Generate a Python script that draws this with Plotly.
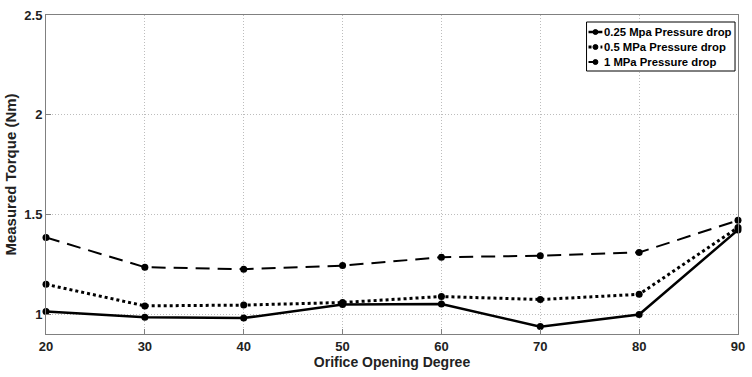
import plotly.graph_objects as go

opening = [20, 30, 40, 50, 60, 70, 80, 90]
torque_025 = [1.013, 0.984, 0.980, 1.048, 1.050, 0.937, 0.998, 1.422]
torque_05 = [1.149, 1.041, 1.045, 1.058, 1.088, 1.073, 1.099, 1.434]
torque_1 = [1.384, 1.235, 1.225, 1.243, 1.285, 1.293, 1.309, 1.470]
names = ["0.25 Mpa Pressure drop", "0.5 MPa Pressure drop", "1 MPa Pressure drop"]
x_ticks = [20, 30, 40, 50, 60, 70, 80, 90]
y_ticks = [1, 1.5, 2, 2.5]

W, H = 752, 377
ML, MR, MT, MB = 46, 7, 15, 43
PW, PH = W - ML - MR, H - MT - MB


def px(x):
    return (x - ML) / PW


def py(y):
    return (H - MB - y) / PH


line_dash = ["solid", "dot", "14px,8px"]
line_w = [2.5, 3, 2]

fig = go.Figure()
for ys, nm, dash, w in zip([torque_025, torque_05, torque_1], names, line_dash, line_w):
    fig.add_trace(go.Scatter(
        x=opening, y=ys, name=nm, mode="lines+markers",
        line=dict(color="black", width=w, dash=dash),
        marker=dict(color="black", size=7, symbol="circle"),
        cliponaxis=False, showlegend=False,
    ))

# custom compact legend (MATLAB style)
shapes = [dict(type="rect", xref="paper", yref="paper",
               x0=px(592), x1=px(742), y0=py(71), y1=py(22),
               line=dict(color="black", width=1), fillcolor="white", layer="above")]
annotations = []
row_y = [32, 47, 62]
leg_dash = ["solid", "dot", "dash"]
for i, nm in enumerate(names):
    yy = row_y[i]
    shapes.append(dict(type="line", xref="paper", yref="paper",
                       x0=px(594), x1=px(608), y0=py(yy), y1=py(yy),
                       line=dict(color="black", width=line_w[i], dash=leg_dash[i]), layer="above"))
    shapes.append(dict(type="circle", xref="paper", yref="paper",
                       x0=px(598.5), x1=px(603.5), y0=py(yy + 2.5), y1=py(yy - 2.5),
                       line=dict(color="black", width=1), fillcolor="black", layer="above"))
    annotations.append(dict(xref="paper", yref="paper", x=px(608), y=py(yy),
                            xanchor="left", yanchor="middle", showarrow=False,
                            text=f"<b>{nm}</b>",
                            font=dict(family="Liberation Sans, Arial", size=11.3, color="black")))

fig.update_layout(
    width=W, height=H,
    margin=dict(l=ML, r=MR, t=MT, b=MB),
    paper_bgcolor="white", plot_bgcolor="white",
    showlegend=False,
    shapes=shapes, annotations=annotations,
    font=dict(family="Liberation Sans, Arial", color="#222"),
)
fig.update_xaxes(
    range=[20, 90], tickvals=x_ticks,
    ticktext=[f"<b>{v}</b>" for v in x_ticks],
    tickfont=dict(family="Liberation Sans, Arial", size=13, color="#222"),
    ticklabeloverflow="allow",
    title=dict(text="<b>Orifice Opening Degree</b>", font=dict(family="Liberation Sans, Arial", size=14, color="#222"), standoff=4),
    showline=True, linecolor="#808080", linewidth=1, mirror=True,
    showgrid=True, gridcolor="#bdbdbd", griddash="1px,2px", gridwidth=1,
    ticks="inside", ticklen=5, tickcolor="#808080", zeroline=False,
)
fig.update_yaxes(
    range=[0.9, 2.5], tickvals=y_ticks,
    ticktext=[f"<b>{v:g}</b>" for v in y_ticks],
    tickfont=dict(family="Liberation Sans, Arial", size=13, color="#222"),
    title=dict(text="<b>Measured Torque (Nm)</b>", font=dict(family="Liberation Sans, Arial", size=15, color="#222"), standoff=4),
    showline=True, linecolor="#808080", linewidth=1, mirror=True,
    showgrid=True, gridcolor="#bdbdbd", griddash="1px,2px", gridwidth=1,
    ticks="inside", ticklen=5, tickcolor="#808080", zeroline=False,
)
fig.write_html("out.html", config={"displayModeBar": False},
               post_script="document.body.style.margin='0';document.body.style.padding='0';")
